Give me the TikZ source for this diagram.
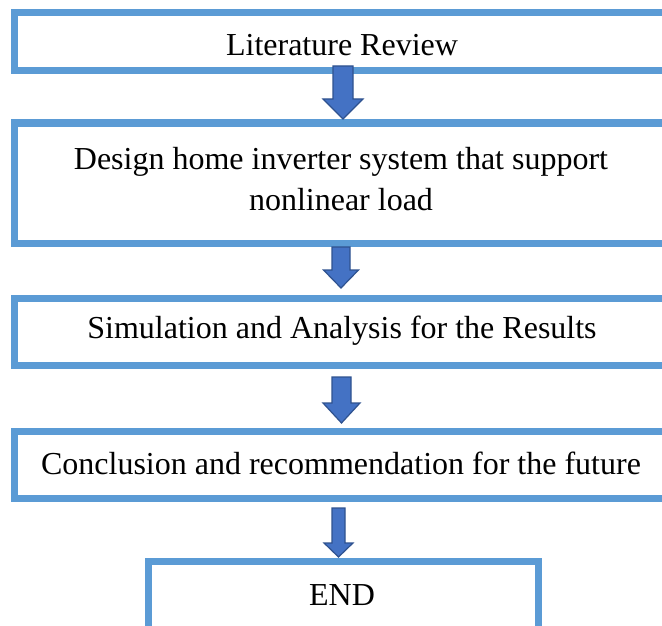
\documentclass[tikz,border=0pt]{standalone}
\usepackage{fontspec}
\setmainfont{Liberation Serif}
\definecolor{boxblue}{HTML}{5B9BD5}
\definecolor{arrowfill}{HTML}{4472C4}
\definecolor{arrowline}{HTML}{2F528F}
\tikzset{
  stepbox/.style={draw=boxblue, line width=7pt, rectangle, inner sep=0pt, align=center},
  txt/.style={inner sep=0pt, align=center, font=\fontsize{32}{41}\selectfont},
  barrow/.style={fill=arrowfill, draw=arrowline, line width=1.2pt, line join=miter}
}
% cx, half shaft, top, head top, half head, tip
\newcommand\myblockarrow[6]{%
  \filldraw[barrow] (#1-#2,#3) -- (#1+#2,#3) -- (#1+#2,#4) -- (#1+#5,#4) -- (#1,#6)
    -- (#1-#5,#4) -- (#1-#2,#4) -- cycle;}
\begin{document}
\begin{tikzpicture}[x=1pt,y=-1pt]
\useasboundingbox (0,0) rectangle (662,626);
\clip (0,0) rectangle (662,626);
\fill[white] (0,0) rectangle (662,626);
\node[stepbox, minimum width=655.5pt, minimum height=57.5pt] (b1) at (342.25,41.75) {};
\node[txt] (t1) at (342,45) {Literature Review};
\node[stepbox, minimum width=655.5pt, minimum height=120pt] (b2) at (342.25,183) {};
\node[txt] (t2) at (341,179) {Design home inverter system that support\\nonlinear load};
\node[stepbox, minimum width=655.5pt, minimum height=66.5pt] (b3) at (342.25,331.75) {};
\node[txt] (t3) at (342,331) {Simulation and Analysis for the Results};
\node[stepbox, minimum width=655.5pt, minimum height=67.5pt] (b4) at (342.25,464.75) {};
\node[txt] (t4) at (341,463) {Conclusion and recommendation for the future};
\node[stepbox, minimum width=390pt, minimum height=100pt] (b5) at (343.5,611.5) {};
\node[txt] (t5) at (342,595) {END};
\myblockarrow{343}{10}{66}{99}{20}{119}
\myblockarrow{341}{9}{247}{270}{17.5}{288}
\myblockarrow{341.5}{9.5}{377}{403}{18.5}{423}
\myblockarrow{338.5}{6.5}{508}{543}{14.5}{557}
\end{tikzpicture}
\end{document}
